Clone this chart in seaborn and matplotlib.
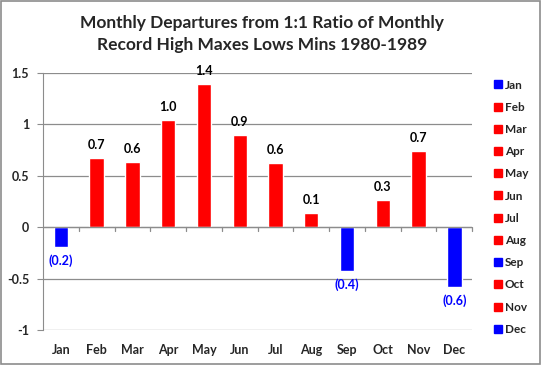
import matplotlib
matplotlib.use("Agg")
import matplotlib.pyplot as plt
import seaborn as sns
import pandas as pd
from matplotlib.patches import Rectangle
from matplotlib.lines import Line2D

months = ["Jan", "Feb", "Mar", "Apr", "May", "Jun", "Jul", "Aug", "Sep", "Oct", "Nov", "Dec"]
values = [-0.19, 0.67, 0.63, 1.04, 1.39, 0.90, 0.62, 0.14, -0.43, 0.26, 0.74, -0.58]

df = pd.DataFrame({"month": months, "value": values})
colors = {m: ("#0000FF" if v < 0 else "#FF0000") for m, v in zip(months, values)}

sns.set_style("white")
plt.rcParams["font.family"] = ["Lato", "DejaVu Sans"]
plt.rcParams["font.weight"] = "bold"

fig = plt.figure(figsize=(5.42, 3.65), dpi=100)
ax = fig.add_axes([0.0793, 0.0959, 0.792, 0.704])

sns.barplot(data=df, x="month", y="value", hue="month", palette=colors,
            dodge=False, width=0.4, legend=False, ax=ax, saturation=1)

ax.set_ylim(-1, 1.5)
ax.set_xlim(-0.5, 11.5)
ax.set_yticks([-1, -0.5, 0, 0.5, 1, 1.5])
ax.set_yticklabels(["-1", "-0.5", "0", "0.5", "1", "1.5"], fontsize=9, fontweight="bold")
ax.yaxis.grid(True, color="#8c8c8c", linewidth=0.9)
ax.set_axisbelow(True)
ax.set_xlabel("")
ax.set_ylabel("")
for s in ["top", "right", "bottom"]:
    ax.spines[s].set_visible(False)
ax.spines["left"].set_color("#8c8c8c")
ax.tick_params(axis="y", length=4, color="#8c8c8c", left=True, pad=6)

# x labels at bottom, tick marks on the zero line between categories
ax.tick_params(axis="x", length=0, pad=10)
ax.set_xticks(range(12))
ax.set_xticklabels(months, fontsize=9, fontweight="bold")
ax.axhline(0, color="#8c8c8c", linewidth=0.9, zorder=1)
for k in range(1, 13):
    ax.plot([k - 0.5, k - 0.5], [0, -0.04], color="#8c8c8c", linewidth=0.9,
            clip_on=False)

for i, v in enumerate(values):
    if v >= 0:
        ax.text(i, v + 0.07, f"{v:.1f}", ha="center", va="bottom", fontsize=9,
                fontweight="bold", color="black")
    else:
        ax.text(i, v - 0.07, f"({abs(v):.1f})", ha="center", va="top", fontsize=9,
                fontweight="bold", color="#0000FF")

fig.text(0.483, 0.907, "Monthly Departures from 1:1 Ratio of Monthly\nRecord High Maxes Lows Mins 1980-1989",
         ha="center", va="center", fontsize=12.5, fontweight="bold", linespacing=1.5)

handles = [Line2D([0], [0], marker="s", linestyle="", markersize=6,
                  markerfacecolor=colors[m], markeredgecolor=colors[m]) for m in months]
fig.legend(handles, months, loc="upper left", bbox_to_anchor=(0.903, 0.795),
           frameon=False, fontsize=8.5, handlelength=0.6, handletextpad=0.3,
           labelspacing=0.95, borderaxespad=0)

fig.patches.append(Rectangle((0.002, 0.003), 0.995, 0.994, transform=fig.transFigure,
                             fill=False, edgecolor="#8c8c8c", linewidth=1.2))

fig.savefig("out.png", dpi=100)
